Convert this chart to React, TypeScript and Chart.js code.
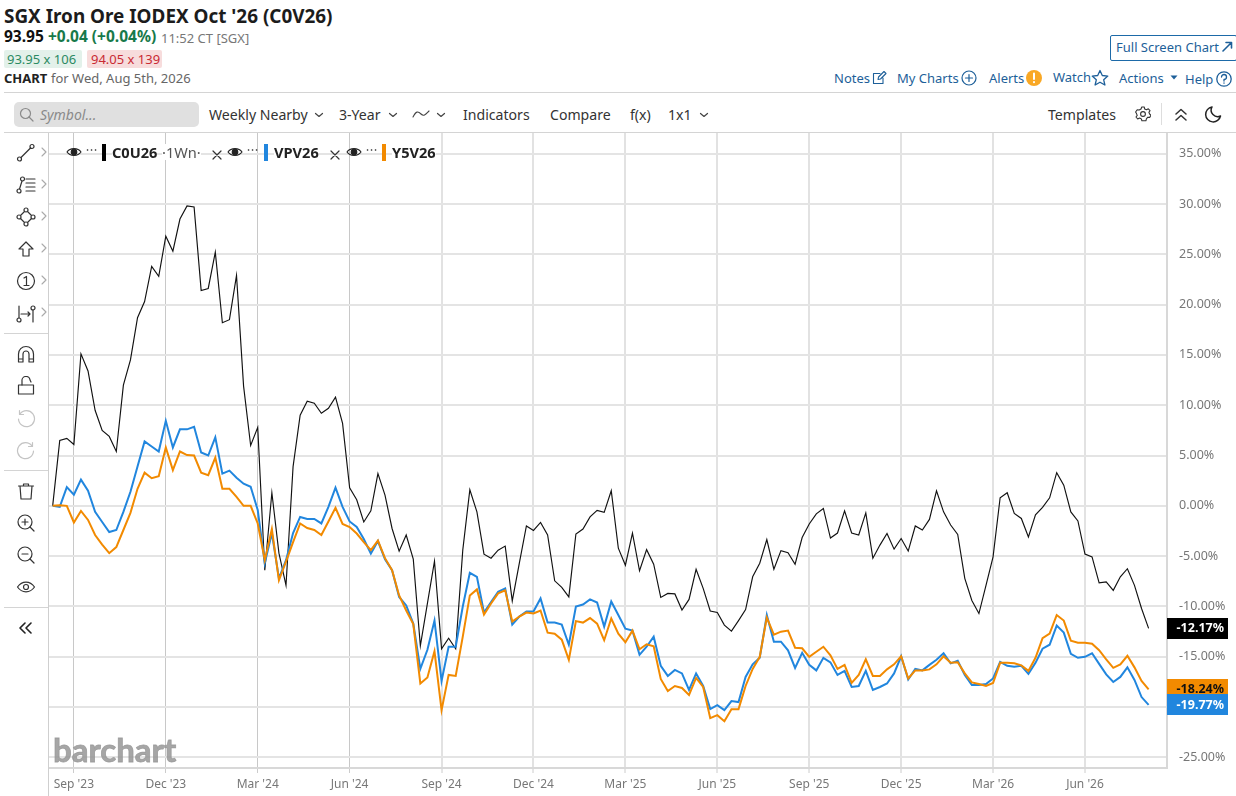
import React, { useEffect, useRef } from "react";
import { Chart, registerables } from "chart.js";

Chart.register(...registerables);

const blackName = "C0U26";
const blueName = "VPV26";
const orangeName = "Y5V26";

const blackValues = [
  0, 6.5, 6.7, 6.1, 15.1, 13.4, 9.5, 7.5, 6.9, 5.4,
  12.0, 14.5, 18.7, 20.3, 23.8, 22.8, 26.8, 25.3, 28.5, 29.8,
  29.7, 21.4, 21.6, 25.2, 18.2, 18.5, 22.9, 11.9, 6.0, 7.8,
  -6.4, 1.3, -4.7, -7.9, 3.9, 9.0, 10.4, 10.2, 9.2, 9.7,
  10.8, 8.2, 1.8, 0.6, -1.6, -0.5, 3.2, 1.06, -2.25, -4.5,
  -2.9, -5.3, -13.9, -9.7, -5.5, -14.2, -13.15, -14.2, -4.4, 1.6,
  -0.6, -4.8, -5.2, -4.4, -4.0, -9.45, -5.7, -2.0, -2.45, -1.65,
  -2.9, -7.45, -8.1, -9.05, -2.8, -2.3, -1.1, -0.45, -0.65, 1.5,
  -4.2, -5.9, -2.7, -6.45, -4.35, -5.8, -9.1, -8.7, -8.75, -10.35,
  -9.3, -6.3, -8.2, -10.45, -10.6, -11.85, -12.45, -11.4, -10.3, -7.05,
  -5.7, -3.35, -6.3, -4.45, -4.65, -5.8, -3.15, -1.8, -0.8, -0.26,
  -3.2, -2.7, -0.5, -2.7, -2.9, -0.7, -5.2, -3.9, -2.75, -4.3,
  -3.25, -4.5, -2.0, -2.4, -1.35, 1.5, -0.6, -1.9, -2.85, -7.2,
  -9.4, -10.7, -7.9, -5.07, 0.8, 1.3, -0.75, -1.25, -3.1, -0.9,
  -0.16, 0.8, 3.3, 2.05, -0.6, -1.5, -4.8, -5.07, -7.65, -7.55,
  -8.4, -7.05, -6.25, -7.9, -10.2, -12.17,
];

const blueValues = [
  0, -0.1, 1.86, 1.1, 2.6, 1.5, -0.6, -1.6, -2.6, -2.4,
  -0.6, 1.4, 3.9, 6.4, 5.9, 5.4, 8.45, 5.8, 7.6, 7.6,
  7.85, 5.3, 5.0, 6.8, 3.2, 3.5, 2.8, 2.2, 1.9, -0.4,
  -5.7, -2.7, -7.2, -5.4, -2.7, -1.1, -1.3, -1.3, -1.75, -0.1,
  1.8, -0.1, -1.55, -2.1, -3.3, -4.75, -3.5, -5.3, -6.4, -9.05,
  -9.9, -11.7, -16.2, -14.3, -11.4, -17.4, -14.0, -14.0, -10.0, -6.65,
  -7.05, -10.6, -9.55, -8.55, -8.2, -11.8, -11.0, -10.5, -10.5, -9.2,
  -11.6, -11.6, -11.8, -13.8, -10.0, -9.8, -9.3, -9.6, -12.0, -9.5,
  -10.85, -12.2, -12.4, -14.8, -14.0, -13.0, -15.9, -16.9, -16.3, -16.65,
  -18.3, -16.65, -17.9, -20.2, -19.8, -20.3, -19.4, -19.5, -17.0, -15.75,
  -15.1, -10.85, -13.5, -13.5, -14.35, -16.1, -14.6, -15.8, -16.35, -15.1,
  -15.55, -16.8, -16.4, -18.0, -17.9, -16.4, -18.3, -18.0, -17.65, -16.65,
  -14.95, -17.25, -16.2, -16.35, -15.8, -15.3, -14.65, -15.65, -15.4, -16.8,
  -17.8, -17.8, -17.7, -17.15, -15.5, -15.9, -16.0, -15.9, -16.7, -15.6,
  -14.2, -13.8, -11.9, -12.6, -14.7, -15.1, -15.0, -14.65, -15.7, -16.75,
  -17.5, -17.0, -16.05, -17.3, -19.0, -19.77,
];

const orangeValues = [
  0, 0.07, 0, -1.65, -0.5, -1.4, -2.9, -3.85, -4.7, -4.1,
  -2.4, -0.7, 1.7, 3.3, 2.75, 2.95, 5.8, 3.55, 5.4, 5.05,
  5.0, 3.3, 3.05, 4.8, 1.7, 1.7, 0.9, 0, 0, -1.75,
  -5.4, -2.3, -7.4, -5.55, -3.6, -1.75, -2.2, -2.4, -2.9, -1.55,
  -0.2, -1.8, -2.1, -2.75, -3.6, -4.4, -3.45, -5.2, -6.4, -8.9,
  -10.4, -11.75, -17.65, -17.05, -14.45, -20.3, -16.8, -16.9, -13.0, -8.9,
  -8.3, -10.8, -9.7, -8.7, -8.4, -11.5, -11.0, -10.6, -10.7, -10.4,
  -12.6, -12.7, -13.3, -15.3, -11.45, -11.6, -11.15, -11.7, -13.35, -11.2,
  -12.7, -13.55, -12.4, -14.25, -13.75, -13.95, -17.2, -18.4, -17.9, -18.1,
  -18.8, -17.1, -18.0, -21.1, -20.8, -21.4, -20.2, -20.2, -17.9, -16.2,
  -15.0, -11.1, -12.8, -12.5, -12.4, -14.1, -14.15, -15.0, -14.5, -14.0,
  -14.85, -16.2, -15.8, -17.6, -16.8, -15.25, -16.9, -16.9, -16.25, -15.75,
  -14.95, -17.15, -16.35, -16.35, -16.25, -15.75, -14.95, -15.6, -15.55, -16.65,
  -17.55, -17.7, -17.9, -17.6, -15.6, -15.6, -15.65, -15.85, -16.4, -15.1,
  -13.15, -12.7, -10.85, -11.4, -13.4, -13.6, -13.6, -13.7, -14.35, -15.25,
  -16.1, -15.75, -14.9, -16.05, -17.4, -18.24,
];

const quarterWeeks = [3, 16, 29, 42, 55, 68, 81, 94, 107, 120, 133, 146];
const quarterLabels = [
  "Sep '23", "Dec '23", "Mar '24", "Jun '24", "Sep '24", "Dec '24",
  "Mar '25", "Jun '25", "Sep '25", "Dec '25", "Mar '26", "Jun '26",
];

const BLACK = "#111111";
const BLUE = "#2186de";
const ORANGE = "#f28a00";
const FONT = '"Noto Sans", sans-serif';
const INK = "#333333";
const LINK = "#1d5f99";

const toPoints = (values: number[]) => values.map((y, x) => ({ x, y }));

const overlayPlugin = {
  id: "overlay",
  beforeDatasetsDraw(chart: any) {
    const { ctx, scales } = chart;
    ctx.save();
    ctx.fillStyle = "rgba(150,150,150,0.85)";
    ctx.strokeStyle = "rgba(150,150,150,0.85)";
    ctx.lineWidth = 0.8;
    ctx.font = "700 33px Lato, sans-serif";
    ctx.textAlign = "left";
    ctx.textBaseline = "alphabetic";
    ctx.fillText("barchart", scales.x.left + 4, scales.y.bottom - 6);
    ctx.strokeText("barchart", scales.x.left + 4, scales.y.bottom - 6);
    ctx.restore();
  },
  afterDraw(chart: any) {
    const { ctx, scales } = chart;
    const x0 = scales.y.left;
    const badges = [
      { v: blackValues[blackValues.length - 1], bg: "#000000", fg: "#ffffff" },
      { v: orangeValues[orangeValues.length - 1], bg: ORANGE, fg: "#111111" },
      { v: blueValues[blueValues.length - 1], bg: BLUE, fg: "#ffffff" },
    ];
    ctx.save();
    badges.forEach((b) => {
      const y = scales.y.getPixelForValue(b.v);
      ctx.fillStyle = b.bg;
      ctx.fillRect(x0, Math.round(y - 10.5), 61, 21);
      ctx.fillStyle = b.fg;
      ctx.font = `700 12.5px ${FONT}`;
      ctx.textAlign = "right";
      ctx.textBaseline = "middle";
      ctx.fillText(b.v.toFixed(2) + "%", x0 + 57, y + 0.5);
    });
    ctx.restore();
  },
};

const Txt = ({ x, y, size = 14, color = INK, weight = 400, italic = false, children, bg }: any) => (
  <span
    style={{
      position: "absolute",
      left: x,
      top: y,
      transform: "translateY(-50%)",
      fontSize: size,
      color,
      fontWeight: weight,
      fontStyle: italic ? "italic" : "normal",
      whiteSpace: "nowrap",
      lineHeight: 1.1,
      background: bg,
    }}
  >
    {children}
  </span>
);

const Ic = ({ x, y, w = 20, h = 20, vb, stroke = "#333", sw = 1.2, children }: any) => (
  <svg
    width={w}
    height={h}
    viewBox={vb || `0 0 ${w} ${h}`}
    style={{ position: "absolute", left: x, top: y }}
    fill="none"
    stroke={stroke}
    strokeWidth={sw}
    strokeLinecap="round"
    strokeLinejoin="round"
  >
    {children}
  </svg>
);

const Chevron = ({ x, y, color = "#444" }: any) => (
  <Ic x={x} y={y} w={10} h={6} stroke={color} sw={1.2}>
    <path d="M1.5 1.5 L5 4.5 L8.5 1.5" />
  </Ic>
);

const SideArrow = ({ y }: any) => (
  <Ic x={41} y={y} w={6} h={10} stroke="#aaa" sw={1.1}>
    <path d="M1 1 L5 5 L1 9" />
  </Ic>
);

const Eye = ({ x }: any) => (
  <Ic x={x} y={146} w={16} h={12} stroke="#222" sw={1.1}>
    <path d="M1 6 C4 1.5 12 1.5 15 6 C12 10.5 4 10.5 1 6 Z" />
    <circle cx={8} cy={6} r={2.8} fill="#222" />
  </Ic>
);

const Dots = ({ x }: any) => (
  <Ic x={x} y={148} w={11} h={4} stroke="#222" sw={1.6}>
    <path d="M1.5 2 h0.1 M5.5 2 h0.1 M9.5 2 h0.1" />
  </Ic>
);

const Cross = ({ x }: any) => (
  <Ic x={x} y={150} w={10} h={10} stroke="#333" sw={1.2}>
    <path d="M1 1 L9 9 M9 1 L1 9" />
  </Ic>
);

const Rule = ({ x, y, w, h, c = "#d4d4d4" }: any) => (
  <div style={{ position: "absolute", left: x, top: y, width: w, height: h, background: c }} />
);

const Legend = () => (
  <>
    <Eye x={66} />
    <Dots x={86} />
    <Rule x={102} y={144} w={4} h={17} c="#000" />
    <Txt x={112} y={152} size={14.6} weight={700} color="#222" bg="#fff">{blackName}</Txt>
    <Txt x={162} y={152} size={14.6} color="#555" bg="#fff">·1Wn·</Txt>
    <Cross x={212} />
    <Eye x={227} />
    <Dots x={247} />
    <Rule x={264} y={144} w={4} h={17} c={BLUE} />
    <Txt x={274} y={152} size={14.6} weight={700} color="#222" bg="#fff">{blueName}</Txt>
    <Cross x={330} />
    <Eye x={346} />
    <Dots x={366} />
    <Rule x={382} y={144} w={4} h={17} c={ORANGE} />
    <Txt x={392} y={152} size={14.6} weight={700} color="#222" bg="#fff">{orangeName}</Txt>
  </>
);

const SideTools = () => (
  <>
    <Rule x={48} y={133} w={1} h={663} c="#cfcfcf" />
    <Ic x={16} y={143}>
      <circle cx={3.5} cy={16} r={2} /><circle cx={16} cy={3.5} r={2} /><path d="M5 14.5 L14.5 5" />
    </Ic>
    <SideArrow y={147} />
    <Ic x={16} y={175}>
      <circle cx={3} cy={16} r={2} /><circle cx={6.5} cy={4} r={2} /><path d="M3.5 14 L6 6 M10 4 H19 M10 8 H19 M10 12 H19 M10 16 H19" />
    </Ic>
    <SideArrow y={179} />
    <Ic x={16} y={207}>
      <path d="M3 10 L10 3 L17 10 L10 17 Z" />
      <circle cx={3} cy={10} r={2} fill="#fff" /><circle cx={10} cy={3} r={2} fill="#fff" /><circle cx={17} cy={10} r={2} fill="#fff" /><circle cx={10} cy={17} r={2} fill="#fff" />
    </Ic>
    <SideArrow y={211} />
    <Ic x={16} y={239}>
      <path d="M10 3 L17 10 H13 V17 H7 V10 H3 Z" />
    </Ic>
    <SideArrow y={243} />
    <Ic x={16} y={271}>
      <circle cx={10} cy={10} r={8.5} /><path d="M8 7 L10.5 5.5 V14.5 M8 14.5 H13" />
    </Ic>
    <SideArrow y={275} />
    <Ic x={16} y={303}>
      <path d="M3 3 V15 M17 7 V19 M5 11 H14 M12 9 L14 11 L12 13" />
      <circle cx={3} cy={17} r={2} /><circle cx={17} cy={5} r={2} />
    </Ic>
    <SideArrow y={307} />
    <Rule x={4} y={333} w={44} h={1} />
    <Ic x={16} y={344}>
      <path d="M2.5 18 V10 A7.5 7.5 0 0 1 17.5 10 V18 H13 V10 A3 3 0 0 0 7 10 V18 Z M2.5 15 H7 M13 15 H17.5" />
    </Ic>
    <Ic x={16} y={376}>
      <rect x={2.5} y={9} width={15} height={9} />
      <path d="M6 9 V5 A4 4 0 0 1 14 4 L15 6" />
    </Ic>
    <Ic x={16} y={408} stroke="#c4c4c4">
      <path d="M4 6 A8 8 0 1 1 2.5 11 M3.5 2.5 V6.5 H7.5" />
    </Ic>
    <Ic x={16} y={440} stroke="#c4c4c4">
      <path d="M16 6 A8 8 0 1 0 17.5 11 M16.5 2.5 V6.5 H12.5" />
    </Ic>
    <Rule x={4} y={470} w={44} h={1} />
    <Ic x={16} y={481}>
      <path d="M4 5 H16 L15 18 H5 Z M2.5 5 H17.5 M7.5 5 V3 H12.5 V5" />
    </Ic>
    <Ic x={16} y={513}>
      <circle cx={9} cy={9} r={7} /><path d="M14 14 L18 18 M6 9 H12 M9 6 V12" />
    </Ic>
    <Ic x={16} y={545}>
      <circle cx={9} cy={9} r={7} /><path d="M14 14 L18 18 M6 9 H12" />
    </Ic>
    <Ic x={16} y={577}>
      <path d="M1.5 10 C6 3.5 14 3.5 18.5 10 C14 16.5 6 16.5 1.5 10 Z" /><circle cx={10} cy={10} r={2.5} />
    </Ic>
    <Rule x={4} y={607} w={44} h={1} />
    <Ic x={19} y={622} w={14} h={12} stroke="#222" sw={1.6}>
      <path d="M6 1 L1 6 L6 11 M12 1 L7 6 L12 11" />
    </Ic>
  </>
);

const Header = () => (
  <>
    <Txt x={4} y={16} size={18.9} weight={700} color="#1c1c1c">SGX Iron Ore IODEX Oct '26 (C0V26)</Txt>
    <Txt x={4} y={37} size={15.5} weight={700} color="#111">93.95</Txt>
    <Txt x={48} y={37} size={15.5} weight={700} color="#17794a">+0.04 (+0.04%)</Txt>
    <Txt x={161} y={38} size={13} color="#777">11:52 CT [SGX]</Txt>
    <div style={{ position: "absolute", left: 4, top: 50, width: 78, height: 18, background: "#e3f1ea", borderRadius: 2 }} />
    <Txt x={7} y={59} size={13} color="#2b8a63">93.95 x 106</Txt>
    <div style={{ position: "absolute", left: 87, top: 50, width: 75, height: 18, background: "#f7dcdc", borderRadius: 2 }} />
    <Txt x={91} y={59} size={13} color="#c92a33">94.05 x 139</Txt>
    <Txt x={4} y={78} size={13} weight={700} color="#222">CHART</Txt>
    <Txt x={51} y={78} size={13} color="#666">for Wed, Aug 5th, 2026</Txt>
    <Rule x={4} y={92} w={1232} h={1} />

    <div style={{ position: "absolute", left: 1110, top: 35, width: 125, height: 24, border: "1px solid #1d6aa8", borderRadius: 2 }} />
    <Txt x={1116} y={47} size={13} color={LINK}>Full Screen Chart</Txt>
    <Ic x={1222} y={41} w={11} h={11} stroke={LINK} sw={1.6}>
      <path d="M1 10 L9 2 M4 1.5 H9.5 V7" />
    </Ic>

    <Txt x={834} y={77.5} size={13} color={LINK}>Notes</Txt>
    <Ic x={872} y={70} w={15} h={15} stroke={LINK} sw={1.1}>
      <path d="M11 8 V13.5 H1.5 V3.5 H8 M6 9.5 L6.5 7 L12 1.5 L14 3.5 L8.5 9 Z" />
    </Ic>
    <Txt x={897} y={77.5} size={13} color={LINK}>My Charts</Txt>
    <Ic x={961} y={70} w={16} h={16} stroke={LINK} sw={1.2}>
      <circle cx={8} cy={8} r={7} /><path d="M4.5 8 H11.5 M8 4.5 V11.5" />
    </Ic>
    <Txt x={989} y={78} size={13} color={LINK}>Alerts</Txt>
    <Ic x={1026} y={70} w={16} h={16} stroke="#fff" sw={2}>
      <circle cx={8} cy={8} r={8} fill="#f9a825" stroke="none" /><path d="M8 3.5 V9 M8 12 V12.2" />
    </Ic>
    <Txt x={1053} y={77} size={13} color={LINK}>Watch</Txt>
    <Ic x={1091} y={69} w={18} h={17} stroke={LINK} sw={1.3}>
      <path d="M9 1.5 L11.3 6.5 L16.8 7.1 L12.7 10.8 L13.9 16 L9 13.2 L4.1 16 L5.3 10.8 L1.2 7.1 L6.7 6.5 Z" />
    </Ic>
    <Txt x={1119} y={78} size={13} color={LINK}>Actions</Txt>
    <Ic x={1170} y={75} w={8} h={5} stroke={LINK} sw={0}>
      <path d="M0.5 0.5 H7.5 L4 4.5 Z" fill={LINK} />
    </Ic>
    <Txt x={1185} y={79} size={13} color={LINK}>Help</Txt>
    <Ic x={1216} y={71} w={16} h={16} stroke={LINK} sw={1.3}>
      <circle cx={8} cy={8} r={7.2} /><path d="M5.5 6 A2.5 2.5 0 1 1 8 8.5 V10 M8 12 V12.2" />
    </Ic>

    <div style={{ position: "absolute", left: 14, top: 102, width: 185, height: 25, background: "#e0e0e0", borderRadius: 5 }} />
    <Ic x={19} y={107} w={15} h={15} stroke="#8a8a8a" sw={1.2}>
      <circle cx={6.5} cy={6.5} r={5} /><path d="M10 10 L14 14" />
    </Ic>
    <Txt x={40} y={115} size={14} italic color="#8a8a8a">Symbol...</Txt>
    <Txt x={209} y={115} size={14.1} color={INK}>Weekly Nearby</Txt>
    <Chevron x={314} y={112} />
    <Txt x={339} y={115} size={14.1} color={INK}>3-Year</Txt>
    <Chevron x={388} y={112} />
    <Ic x={412} y={108} w={18} h={12} stroke="#444" sw={1.1}>
      <path d="M1 9 C4 3 6 3 9 6 C12 9 14 6 17 3" />
    </Ic>
    <Chevron x={436} y={112} />
    <Txt x={463} y={115} size={14.1} color={INK}>Indicators</Txt>
    <Txt x={550} y={115} size={14.1} color={INK}>Compare</Txt>
    <Txt x={630} y={115} size={14.1} color={INK}>f(x)</Txt>
    <Txt x={668} y={115} size={14.1} color={INK}>1x1</Txt>
    <Chevron x={699} y={112} />
    <Txt x={1048} y={115} size={14.1} color={INK}>Templates</Txt>
    <Ic x={1135} y={106} w={16} h={16} stroke="#333" sw={1.1}>
      <circle cx={8} cy={8} r={2.4} />
      <path d="M6.8 1 H9.2 L9.7 3 L11.5 3.8 L13.3 2.8 L15 4.7 L13.9 6.4 L14.6 8 L15.9 9.2 L14.7 11.4 L12.8 11.2 L11.4 12.8 L10.9 14.8 H6.9 L6.4 12.9 L4.6 12 L2.7 13 L1 11 L2.2 9.4 L1.5 7.6 L0.6 6 L2.2 3.8 L4.2 4 L6 3 Z" />
    </Ic>
    <Rule x={1161} y={103} w={1} h={22} c="#dddddd" />
    <Ic x={1175} y={108} w={12} h={14} stroke="#333" sw={1.5}>
      <path d="M1 6 L6 1.5 L11 6 M1 12 L6 7.5 L11 12" />
    </Ic>
    <Ic x={1204} y={105} w={18} h={18} stroke="#222" sw={1.5}>
      <path d="M8 2 A7.5 7.5 0 1 0 16.5 11 A6.5 6.5 0 0 1 8 2 Z" />
    </Ic>
    <Rule x={4} y={132} w={1232} h={1} />
  </>
);

export default function App() {
  const ref = useRef<HTMLCanvasElement>(null);

  useEffect(() => {
    const canvas = ref.current;
    if (!canvas) return;
    const chart = new Chart(canvas, {
      type: "line",
      data: {
        datasets: [
          { label: blackName, data: toPoints(blackValues), borderColor: BLACK, borderWidth: 1.15, pointRadius: 0, tension: 0, order: 3 },
          { label: blueName, data: toPoints(blueValues), borderColor: BLUE, borderWidth: 2, pointRadius: 0, tension: 0, order: 2 },
          { label: orangeName, data: toPoints(orangeValues), borderColor: ORANGE, borderWidth: 2, pointRadius: 0, tension: 0, order: 1 },
        ],
      },
      options: {
        animation: false,
        responsive: false,
        maintainAspectRatio: false,
        layout: { padding: 0, autoPadding: false },
        plugins: { legend: { display: false }, tooltip: { enabled: false } },
        scales: {
          x: {
            type: "linear",
            min: -0.52,
            max: 157.6,
            afterFit: (s: any) => { s.height = 28; },
            afterBuildTicks: (s: any) => { s.ticks = quarterWeeks.map((value) => ({ value })); },
            grid: {
              color: (c: any) => (c.index < 4 ? "#c8c8c8" : "#e2e2e2"),
              lineWidth: (c: any) => (c.index < 4 ? 1 : 2),
              tickLength: 5,
              tickColor: "#cccccc",
              tickWidth: 1,
            },
            border: { color: "#d8d8d8", width: 2 },
            ticks: {
              autoSkip: false,
              maxRotation: 0,
              padding: 4,
              color: "#777777",
              font: { family: FONT, size: 12 },
              callback: (v: any) => quarterLabels[quarterWeeks.indexOf(Number(v))] ?? "",
            },
          },
          y: {
            position: "right",
            min: -26.05,
            max: 37.05,
            afterFit: (s: any) => { s.width = 69; s.paddingTop = 0; s.paddingBottom = 0; },
            grid: { color: "#e4e4e4", lineWidth: 2, drawTicks: false },
            border: { color: "#d8d8d8", width: 2 },
            ticks: {
              stepSize: 5,
              includeBounds: false,
              padding: 12,
              color: "#777777",
              font: { family: FONT, size: 12.5 },
              callback: (v: any) => Number(v).toFixed(2) + "%",
            },
          },
        },
      },
      plugins: [overlayPlugin],
    } as any);
    return () => chart.destroy();
  }, []);

  return (
    <div
      style={{
        position: "fixed",
        left: 0,
        top: 0,
        width: 1236,
        height: 796,
        overflow: "hidden",
        background: "#fff",
        fontFamily: FONT,
      }}
    >
      <canvas
        ref={ref}
        width={1187}
        height={663}
        style={{ position: "absolute", left: 49, top: 133, width: 1187, height: 663 }}
      />
      <Header />
      <SideTools />
      <Legend />
    </div>
  );
}
